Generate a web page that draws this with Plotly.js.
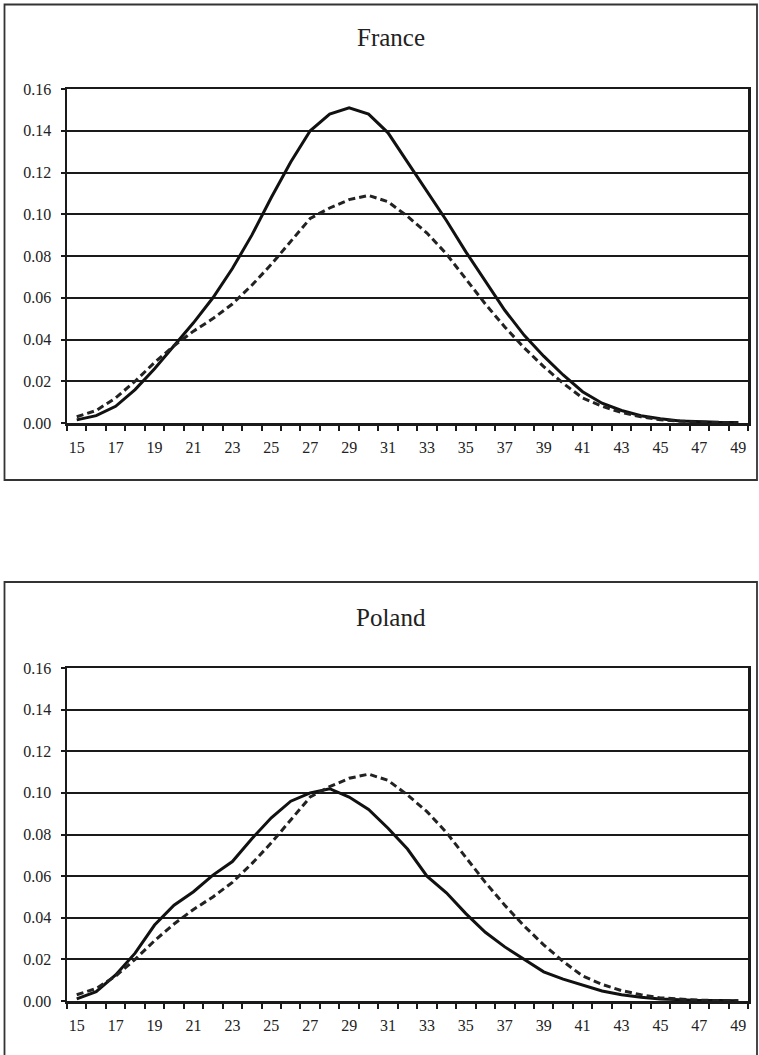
<!DOCTYPE html>
<html>
<head>
<meta charset="utf-8">
<script src="https://cdn.plot.ly/plotly-3.0.1.min.js"></script>
<style>
  html, body { margin: 0; padding: 0; background: #fff; }
  #chart { width: 759px; height: 1055px; }
</style>
</head>
<body>
<div id="chart"></div>
<script>
// Ages 15..49
const ages = [15,16,17,18,19,20,21,22,23,24,25,26,27,28,29,30,31,32,33,34,35,36,37,38,39,40,41,42,43,44,45,46,47,48,49];

// France (solid)
const franceValues = [0.0015,0.0035,0.008,0.016,0.026,0.037,0.048,0.060,0.074,0.090,0.108,0.125,0.140,0.148,0.151,0.148,0.139,0.125,0.111,0.097,0.082,0.068,0.054,0.042,0.032,0.023,0.015,0.0095,0.006,0.0035,0.002,0.001,0.0006,0.0003,0.0002];

// Poland (solid)
const polandValues = [0.001,0.0045,0.0125,0.023,0.0365,0.046,0.0525,0.0605,0.067,0.078,0.088,0.096,0.100,0.102,0.098,0.092,0.083,0.073,0.060,0.052,0.042,0.033,0.026,0.020,0.014,0.0105,0.0078,0.0048,0.003,0.0018,0.001,0.0006,0.0003,0.0002,0.0001];

// Reference distribution (dashed, same in both panels)
const referenceValues = [0.003,0.006,0.012,0.020,0.029,0.037,0.044,0.050,0.057,0.066,0.076,0.087,0.098,0.103,0.107,0.109,0.106,0.099,0.091,0.081,0.069,0.057,0.046,0.036,0.027,0.019,0.012,0.008,0.005,0.003,0.0015,0.0008,0.0004,0.0002,0.0001];

const panelTitles = ["France", "Poland"];
const xTickVals = [15,17,19,21,23,25,27,29,31,33,35,37,39,41,43,45,47,49];
const yTickVals = [0,0.02,0.04,0.06,0.08,0.10,0.12,0.14,0.16];

const W = 759, H = 1055;
const px = v => v / W;
const py = v => 1 - v / H;

const FONT = "'Liberation Serif', 'Times New Roman', serif";
const INK = "#1a1a1a";

function xAxis(anchor, dom) {
  return {
    anchor: anchor, domain: dom,
    range: [14.5, 49.5], fixedrange: true,
    tickmode: "array", tickvals: xTickVals, ticktext: xTickVals.map(String),
    ticks: "", showgrid: false, zeroline: false,
    showline: true, mirror: true, linecolor: INK, linewidth: 2.5,
    tickfont: { family: FONT, size: 16, color: "#222" },
    ticklabelstandoff: 8,
    minor: { tickmode: "linear", tick0: 14.5, dtick: 1, ticks: "outside", ticklen: 5, tickwidth: 2, tickcolor: INK, showgrid: false }
  };
}
function yAxis(anchor, dom) {
  return {
    anchor: anchor, domain: dom,
    range: [0, 0.16], fixedrange: true,
    tickmode: "array", tickvals: yTickVals, tickformat: ".2f",
    ticks: "outside", ticklen: 4, tickwidth: 2, tickcolor: INK,
    showgrid: true, gridcolor: INK, gridwidth: 2, zeroline: false,
    showline: true, mirror: true, linecolor: INK, linewidth: 2.5,
    tickfont: { family: FONT, size: 16, color: "#222" },
    ticklabelstandoff: 6
  };
}

const solidLine = { color: "#111", width: 3 };
const dashLine = { color: "#222", width: 3, dash: "7px,4px" };

const data = [
  { x: ages, y: franceValues, type: "scatter", mode: "lines", line: solidLine, xaxis: "x", yaxis: "y", hoverinfo: "skip" },
  { x: ages, y: referenceValues, type: "scatter", mode: "lines", line: dashLine, xaxis: "x", yaxis: "y", hoverinfo: "skip" },
  { x: ages, y: polandValues, type: "scatter", mode: "lines", line: solidLine, xaxis: "x2", yaxis: "y2", hoverinfo: "skip" },
  { x: ages, y: referenceValues, type: "scatter", mode: "lines", line: dashLine, xaxis: "x2", yaxis: "y2", hoverinfo: "skip" }
];

const layout = {
  width: W, height: H,
  margin: { l: 0, r: 0, t: 0, b: 0, pad: 0 },
  paper_bgcolor: "#fff", plot_bgcolor: "#fff",
  showlegend: false,
  font: { family: FONT, color: "#222" },
  xaxis: xAxis("y", [px(67), px(748)]),
  yaxis: yAxis("x", [py(423), py(89)]),
  xaxis2: xAxis("y2", [px(67), px(748)]),
  yaxis2: yAxis("x2", [py(1001), py(668)]),
  annotations: [
    { text: panelTitles[0], xref: "paper", yref: "paper", x: px(391), y: py(37), xanchor: "center", yanchor: "middle", showarrow: false, font: { family: FONT, size: 25, color: "#222" } },
    { text: panelTitles[1], xref: "paper", yref: "paper", x: px(391), y: py(617), xanchor: "center", yanchor: "middle", showarrow: false, font: { family: FONT, size: 25, color: "#222" } }
  ],
  shapes: [
    { type: "rect", xref: "paper", yref: "paper", x0: px(4.5), x1: px(757), y0: py(480), y1: py(4.5), line: { color: "#333", width: 1.8 }, layer: "below" },
    { type: "rect", xref: "paper", yref: "paper", x0: px(4.5), x1: px(757), y0: py(1070), y1: py(582), line: { color: "#333", width: 1.8 }, layer: "below" }
  ]
};

Plotly.newPlot("chart", data, layout, { staticPlot: true, displayModeBar: false });
</script>
</body>
</html>
